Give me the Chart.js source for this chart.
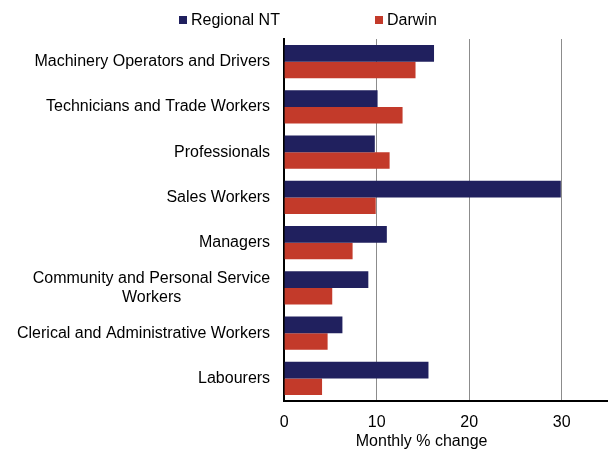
<!DOCTYPE html>
<html>
<head>
<meta charset="utf-8">
<script src="https://cdn.jsdelivr.net/npm/chart.js@4"></script>
<style>
  body { margin: 0; background: #fff; font-family: "Liberation Sans", Arial, sans-serif; }
  #wrap { position: relative; width: 608px; height: 449px; }
  .key { position: absolute; top: 10px; font-size: 16px; color: #000; line-height: 19px; white-space: nowrap; }
  .key i { display: inline-block; width: 8px; height: 8px; margin-right: 4px; vertical-align: 1px; }
</style>
</head>
<body>
<div id="wrap">
  <canvas id="occChart" width="608" height="449"></canvas>
  <div class="key" style="left:179px"><i style="background:#20205e"></i>Regional NT</div>
  <div class="key" style="left:375px"><i style="background:#c33a2a"></i>Darwin</div>
</div>
<script>
var categories = [
    'Machinery Operators and Drivers',
    'Technicians and Trade Workers',
    'Professionals',
    'Sales Workers',
    'Managers',
    ['Community and Personal Service', 'Workers'],
    'Clerical and Administrative Workers',
    'Labourers'
];
var regionalNT = [16.2, 10.1, 9.8, 29.9, 11.1, 9.1, 6.3, 15.6];
var darwin = [14.2, 12.8, 11.4, 9.9, 7.4, 5.2, 4.7, 4.1];
var xTicks = [0, 10, 20, 30];

document.addEventListener('DOMContentLoaded', function () {
    var ctx = document.getElementById('occChart').getContext('2d');
    var chart = new Chart(ctx, {
        type: 'bar',
        data: {
            labels: categories,
            datasets: [{
                label: 'Regional NT',
                data: regionalNT,
                backgroundColor: '#20205e'
            }, {
                label: 'Darwin',
                data: darwin,
                backgroundColor: '#c33a2a'
            }]
        },
        options: {
            indexAxis: 'y',
            responsive: false,
            animation: false,
            layout: {
                padding: { top: 39, left: 3, right: 0, bottom: 0 }
            },
            datasets: {
                bar: { categoryPercentage: 0.74, barPercentage: 1 }
            },
            plugins: {
                legend: { display: false },
                tooltip: { enabled: false }
            },
            scales: {
                x: {
                    min: 0,
                    max: 35,
                    afterBuildTicks: function (scale) {
                        scale.ticks = xTicks.map(function (v) { return { value: v }; });
                    },
                    afterFit: function (scale) {
                        scale.height = 48;
                    },
                    grid: { color: '#8c8c8c', lineWidth: 1, drawTicks: false },
                    border: { color: '#000', width: 2 },
                    ticks: {
                        color: '#000',
                        font: { family: 'Liberation Sans', size: 16 },
                        padding: 12,
                        maxRotation: 0
                    },
                    title: {
                        display: true,
                        // trailing spaces nudge the title left like the original
                        text: 'Monthly % change' + '\u00a0'.repeat(11),
                        color: '#000',
                        font: { family: 'Liberation Sans', size: 16 },
                        padding: { top: 0, bottom: -2 }
                    }
                },
                y: {
                    grid: { display: false, drawTicks: false },
                    border: { color: '#000', width: 2 },
                    ticks: {
                        color: '#000',
                        font: { family: 'Liberation Sans', size: 16 },
                        padding: 14,
                        callback: function (value, index) {
                            var lbl = categories[index];
                            if (Array.isArray(lbl)) {
                                // centre the short second line under the first
                                return [lbl[0], lbl[1] + '\u00a0'.repeat(20)];
                            }
                            return lbl;
                        }
                    }
                }
            }
        }
    });
});
</script>
</body>
</html>
